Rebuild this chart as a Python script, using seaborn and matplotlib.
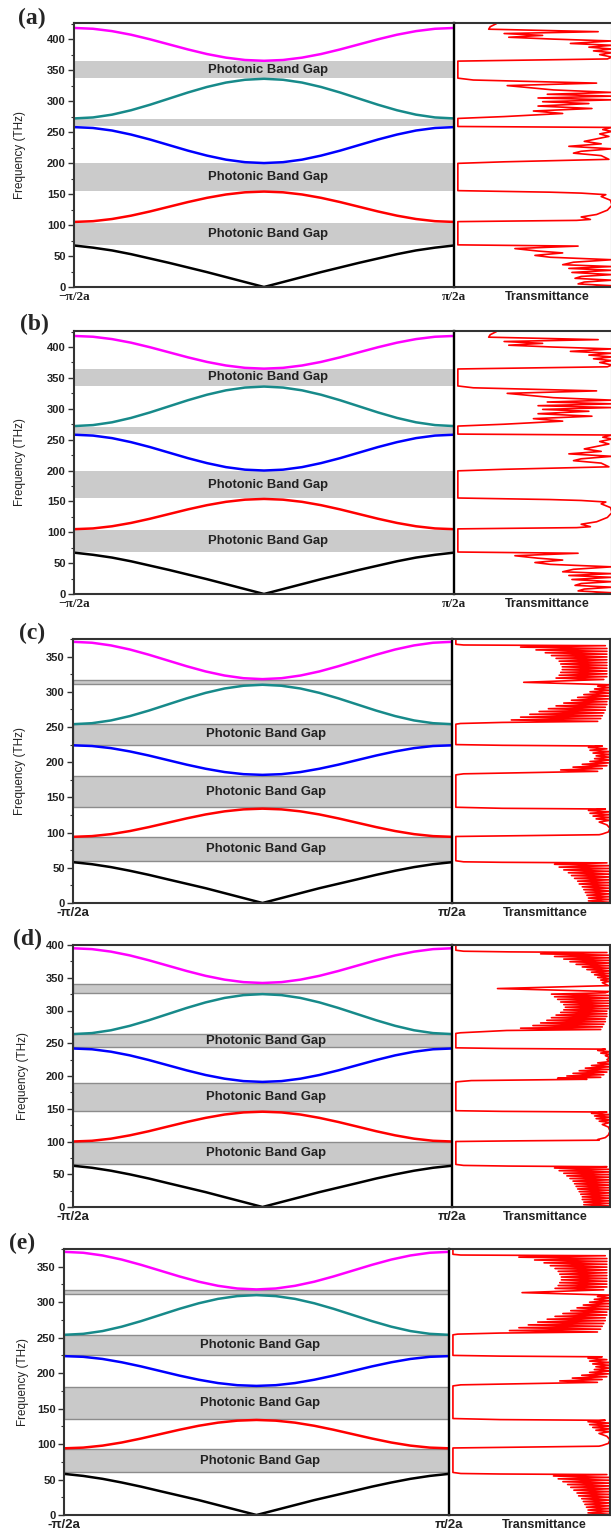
import numpy as np
import pandas as pd
import matplotlib
matplotlib.use("Agg")
import matplotlib.pyplot as plt
from matplotlib.ticker import MultipleLocator
import seaborn as sns

sns.set_style("ticks")
plt.rcParams["font.family"] = ["Liberation Sans", "DejaVu Sans"]

# wave vector from zone centre (0) to zone edge (1), in units of pi/2a
k_half = [0.0, 0.1, 0.2, 0.3, 0.4, 0.5, 0.6, 0.7, 0.8, 0.9, 1.0]

# band frequencies (THz), centre -> edge
black_ab = [0, 8, 16, 24, 31.5, 39, 46, 53, 59, 63.5, 67]
red_ab = [154, 152.8, 149.3, 143.9, 137.1, 129.5, 121.9, 115.1, 109.7, 106.2, 105]
blue_ab = [200, 201.4, 205.5, 212, 220, 229, 238, 246, 252.5, 256.6, 258]
teal_ab = [336, 334.4, 329.9, 322.8, 313.9, 304, 294.1, 285.2, 278.1, 273.6, 272]
magenta_ab = [365, 366.3, 370.1, 375.9, 383.3, 391.5, 399.7, 407.1, 412.9, 416.7, 418]

black_ce = [0, 7, 14, 21, 27.3, 33.6, 40, 45.8, 51, 55.1, 58]
red_ce = [134, 133, 130.2, 125.8, 120.2, 114, 107.8, 102.2, 97.8, 95, 94]
blue_ce = [182, 183, 186, 190.7, 196.5, 203, 209.5, 215.3, 220, 223, 224]
teal_ce = [310, 308.6, 304.7, 298.5, 290.7, 282, 273.3, 265.5, 259.3, 255.4, 254]
magenta_ce = [318, 319.3, 323.1, 328.9, 336.3, 344.5, 352.7, 360.1, 365.9, 369.7, 371]

black_d = [0, 7.6, 15.1, 22.7, 29.6, 36.5, 43.5, 49.8, 55.4, 59.9, 63]
red_d = [145.5, 144.4, 141.2, 136.1, 129.8, 122.8, 115.7, 109.4, 104.3, 101.1, 100]
blue_d = [191, 192.2, 195.9, 201.5, 208.6, 216.5, 224.4, 231.5, 237.1, 240.8, 242]
teal_d = [325, 323.5, 319.2, 312.4, 303.9, 294.5, 285.1, 276.6, 269.8, 265.5, 264]
magenta_d = [342, 343.3, 347.1, 352.9, 360.3, 368.5, 376.7, 384.1, 389.9, 393.7, 395]

# photonic band gaps (low, high) THz
gaps_ab = [(68, 103), (155, 199.5), (259, 271), (337, 364.5)]
gaps_ce = [(60, 93.5), (136, 180), (225, 254), (311, 317)]
gaps_d = [(65, 99), (147, 190), (244, 264), (326, 341)]
labelled_ab = [True, True, False, True]
labelled_ce = [True, True, True, False]
labelled_d = [True, True, True, False]

# transmittance curves (frequency THz, transmittance)
trans_ab = [
    (425, 0.25), (420, 0.21), (416, 0.20), (412, 0.91), (409, 0.30), (406, 0.55), (403, 0.33),
    (400, 0.62), (397, 1.0), (393, 0.73), (390, 1.0), (387, 0.85), (384, 1.0), (381, 0.88),
    (378, 1.0), (375, 0.92), (371, 1.0), (368, 0.97), (364.5, 0.0),
    (337, 0.0), (334, 0.10), (329, 0.90), (325, 0.32), (318, 0.62), (314, 1.0), (311, 0.58),
    (308, 1.0), (305, 0.52), (302, 1.0), (299, 0.55), (296, 0.85), (292, 0.52), (288, 0.87),
    (284, 0.49), (280, 0.68), (275, 0.30), (272, 0.0),
    (259, 0.0), (257.5, 1.0), (254, 0.94), (251, 1.0), (247, 0.92), (243, 0.98), (239, 0.90),
    (235, 0.82), (231, 0.93), (227, 0.72), (223, 1.0), (219, 0.80), (216, 0.75), (212, 0.93),
    (206, 0.98), (202, 0.30), (199.5, 0.0),
    (155.5, 0.0), (153, 0.60), (151.5, 0.80), (149, 0.96), (146, 0.93), (140, 0.99), (132, 1.0),
    (124, 0.97), (117, 0.90), (113, 0.80), (109, 0.86), (107.5, 0.77), (105.5, 0.0),
    (68, 0.0), (66, 0.78), (62, 0.37), (58, 0.52), (55, 0.68), (51, 0.50), (48, 0.60),
    (44, 1.0), (40, 0.75), (36, 0.68), (33, 1.0), (30, 0.72), (27, 1.0), (23.5, 0.74),
    (20, 1.0), (17, 0.80), (14, 0.76), (11, 1.0), (8, 0.82), (5, 0.78), (2, 1.0), (0, 0.85),
]

trans_ce = [
    (375, 0.0), (367.5, 0.0), (366.5, 0.05), (365.5, 0.97), (363.5, 0.42), (361.5, 0.98),
    (359.5, 0.52), (357.5, 0.98), (355.5, 0.58), (353.5, 0.98), (351.5, 0.62), (349.5, 0.98),
    (347.5, 0.65), (345.5, 0.98), (343.5, 0.67), (341.5, 0.98), (339.5, 0.68), (337.5, 0.98),
    (335.5, 0.69), (333.5, 0.98), (331.5, 0.69), (329.5, 0.98), (327.5, 0.68), (325.5, 0.98),
    (323.5, 0.67), (321.5, 0.98), (319.5, 0.65), (317.5, 0.96), (313.5, 0.44), (310, 1.0),
    (308, 0.92), (306, 1.0), (304, 0.90), (302, 1.0), (300, 0.87), (298, 1.0), (296, 0.83),
    (294, 0.99), (292, 0.79), (290, 0.99), (288, 0.75), (286, 0.98), (284, 0.70), (282, 0.98),
    (280, 0.65), (278, 0.97), (276, 0.60), (274, 0.97), (272, 0.54), (270, 0.96), (268, 0.48),
    (266, 0.95), (264, 0.42), (262, 0.94), (260, 0.36), (258, 0.92), (256.5, 0.30), (255, 0.03),
    (254, 0.0),
    (225, 0.0), (224, 0.30), (223, 0.95), (221, 0.86), (219, 0.98), (217, 0.87), (215, 1.0),
    (213, 0.89), (211, 1.0), (209, 0.91), (207, 1.0), (205, 0.90), (203, 1.0), (201, 0.87),
    (199, 0.99), (197, 0.82), (195, 0.98), (193, 0.76), (191, 0.95), (189, 0.68), (187, 0.92),
    (185.5, 0.55), (183.5, 0.05), (182, 0.0),
    (136, 0.0), (134.5, 0.30), (133.5, 0.97), (131.5, 0.86), (129.5, 1.0), (127.5, 0.87),
    (125.5, 1.0), (123.5, 0.89), (121.5, 1.0), (119.5, 0.91), (117.5, 1.0), (115, 0.93),
    (111, 0.98), (106, 1.0), (101, 0.99), (98, 0.95), (97, 0.93), (95.5, 0.40), (94.5, 0.0),
    (60, 0.0), (58.5, 0.05), (57.8, 0.30), (57, 0.98), (55, 0.64), (53, 1.0), (51, 0.67),
    (49, 1.0), (47, 0.70), (45, 1.0), (43, 0.73), (41, 1.0), (39, 0.75), (37, 1.0), (35, 0.77),
    (33, 1.0), (31, 0.79), (29, 1.0), (27, 0.80), (25, 1.0), (23, 0.82), (21, 1.0), (19, 0.83),
    (17, 1.0), (15, 0.84), (13, 1.0), (11, 0.85), (9, 1.0), (7, 0.86), (5, 1.0), (3, 0.86),
    (1, 1.0), (0, 0.87),
]

trans_d = [
    (400, 0.0), (392, 0.0), (390.5, 0.05), (389.5, 0.35), (388.5, 0.98), (386.5, 0.55),
    (384.5, 0.99), (382.5, 0.64), (380.5, 1.0), (378.5, 0.70), (376.5, 1.0), (374.5, 0.74),
    (372.5, 1.0), (370.5, 0.78), (368.5, 1.0), (366.5, 0.82), (364.5, 1.0), (362.5, 0.85),
    (360.5, 1.0), (358.5, 0.88), (356.5, 1.0), (354.5, 0.90), (352.5, 1.0), (350.5, 0.92),
    (348.5, 1.0), (346.5, 0.94), (344.5, 1.0), (342.5, 0.95), (338, 0.99), (333.5, 0.27),
    (329, 0.99), (327, 0.97), (325, 0.62), (323, 0.99), (321, 0.64), (319, 0.99), (317, 0.66),
    (315, 0.99), (313, 0.68), (311, 0.99), (309, 0.70), (307, 0.99), (305, 0.71), (303, 0.99),
    (301, 0.70), (299, 0.98), (297, 0.68), (295, 0.98), (293, 0.65), (291, 0.98), (289, 0.62),
    (287, 0.97), (285, 0.59), (283, 0.97), (281, 0.55), (279, 0.96), (277, 0.50), (275, 0.95),
    (273, 0.42), (271, 0.94), (269.5, 0.33), (266, 0.03), (265, 0.0),
    (243, 0.0), (242, 0.30), (241, 0.97), (239, 0.92), (237, 1.0), (235, 0.94), (233, 1.0),
    (231, 0.97), (228, 1.0), (225, 0.98), (222, 1.0), (220, 0.92), (218, 1.0), (216, 0.88),
    (214, 1.0), (212, 0.84), (210, 0.99), (208, 0.80), (206, 0.98), (204, 0.76), (202, 0.96),
    (200, 0.72), (198, 0.94), (196.5, 0.66), (195, 0.85), (193, 0.10), (191, 0.0),
    (147, 0.0), (146, 0.30), (145, 0.98), (143, 0.88), (141, 1.0), (139, 0.90), (137, 1.0),
    (135, 0.91), (133, 1.0), (131, 0.93), (129, 1.0), (126, 0.95), (122, 0.99), (116, 1.0),
    (110, 0.99), (106, 0.97), (103, 0.92), (102, 0.93), (101, 0.40), (100, 0.0),
    (65, 0.0), (63.5, 0.05), (62.5, 0.34), (61.5, 0.98), (59.5, 0.64), (57.5, 1.0), (55.5, 0.67),
    (53.5, 1.0), (51.5, 0.70), (49.5, 1.0), (47.5, 0.72), (45.5, 1.0), (43.5, 0.74), (41.5, 1.0),
    (39.5, 0.76), (37.5, 1.0), (35.5, 0.77), (33.5, 1.0), (31.5, 0.78), (29.5, 1.0), (27.5, 0.79),
    (25.5, 1.0), (23.5, 0.80), (21.5, 1.0), (19.5, 0.81), (17.5, 1.0), (15.5, 0.82), (13.5, 1.0),
    (11.5, 0.82), (9.5, 1.0), (7.5, 0.83), (5.5, 1.0), (3.5, 0.83), (1.5, 1.0), (0, 0.84),
]

band_colors = ["black", "#ff0000", "#0000ff", "#178a8a", "#ff00ff"]
W, H = 611, 1532

fig = plt.figure(figsize=(W / 100, H / 100), dpi=100)


def mirror(vals):
    # dispersion is symmetric about the zone centre
    k = [-x for x in k_half[::-1]] + k_half[1:]
    f = vals[::-1] + vals[1:]
    return k, f


def panel(box, bands, gaps, labelled, trans, ytop, yticks, letter, letter_xy, ylab_x,
          left_lbl, pi_serif, gap_edges):
    L, D, R, T, B = box
    hb = (B - T) / H
    axt = fig.add_axes([D / W, 1 - B / H, (R - D) / W, hb])
    axb = fig.add_axes([L / W, 1 - B / H, (D - L) / W, hb])
    axb.patch.set_visible(False)

    for lo, hi in gaps:
        if gap_edges:
            axb.axhspan(lo, hi, facecolor="#c9c9c9", edgecolor="#8c8c8c", lw=1.0, zorder=0)
        else:
            axb.axhspan(lo, hi, facecolor="#cbcbcb", edgecolor="none", zorder=0)
    for (lo, hi), lab in zip(gaps, labelled):
        if lab:
            axb.text(0.02, (lo + hi) / 2, "Photonic Band Gap", ha="center", va="center",
                     fontsize=9.4, fontweight="bold", color="#222222", zorder=3)

    for vals, c in zip(bands, band_colors):
        k, f = mirror(vals)
        sns.lineplot(x=k, y=f, color=c, lw=1.8, ax=axb, estimator=None, sort=False, zorder=2)

    df = pd.DataFrame(trans, columns=["freq", "trans"])
    sns.lineplot(data=df, x="trans", y="freq", orient="y", sort=False, estimator=None,
                 color="#ff0000", lw=1.2, ax=axt)

    axb.set_xlim(-1, 1)
    axb.set_ylim(0, ytop)
    axt.set_xlim(-0.025, 1.0)
    axt.set_ylim(0, ytop)
    axb.set_xlabel("")
    axb.set_ylabel("")
    axt.set_xlabel("")
    axt.set_ylabel("")

    axb.set_yticks(yticks, labels=[str(v) for v in yticks], fontweight="bold",
                   fontsize=8, color="#222222")
    axb.yaxis.set_minor_locator(MultipleLocator(25))
    axb.tick_params(axis="y", which="major", direction="out", length=4, width=1, pad=2,
                    color="#333333")
    axb.tick_params(axis="y", which="minor", direction="out", length=2.5, width=0.8,
                    color="#333333")
    if pi_serif:
        fam = ["Liberation Serif", "DejaVu Serif"]
    else:
        fam = ["Liberation Sans", "DejaVu Sans"]
    axb.set_xticks([-1, 1], labels=[left_lbl, "\u03c0/2a"], fontsize=9.5, fontweight="bold",
                   family=fam, color="#222222")
    axb.tick_params(axis="x", length=0, pad=3)
    axt.set_xticks([0.58], labels=["Transmittance"], fontsize=9, fontweight="bold",
                   color="#222222")
    axt.tick_params(axis="x", length=0, pad=3)
    axt.set_yticks([])

    for sp in ["left", "top", "bottom"]:
        axb.spines[sp].set_color("#333333")
        axb.spines[sp].set_linewidth(1.5)
    axb.spines["right"].set_color("black")
    axb.spines["right"].set_linewidth(1.7)
    axt.spines["left"].set_visible(False)
    for sp in ["right", "top", "bottom"]:
        axt.spines[sp].set_color("#333333")
        axt.spines[sp].set_linewidth(1.5)

    fig.text(letter_xy[0] / W, 1 - letter_xy[1] / H, letter, ha="center", va="center",
             fontsize=17, fontweight="bold", family=["Liberation Serif", "DejaVu Serif"])
    fig.text(ylab_x / W, 1 - (T + B) / 2 / H, "Frequency (THz)", rotation=90,
             ha="center", va="center", fontsize=8.4, color="#222222")


ticks_ab = [0, 50, 100, 150, 200, 250, 300, 350, 400]
ticks_ce = [0, 50, 100, 150, 200, 250, 300, 350]
ticks_d = [0, 50, 100, 150, 200, 250, 300, 350, 400]

bands_ab = [black_ab, red_ab, blue_ab, teal_ab, magenta_ab]
bands_ce = [black_ce, red_ce, blue_ce, teal_ce, magenta_ce]
bands_d = [black_d, red_d, blue_d, teal_d, magenta_d]

panel((74, 454, 612, 23, 287), bands_ab, gaps_ab, labelled_ab, trans_ab, 426, ticks_ab,
      "(a)", (32, 18), 20, "\u2212\u03c0/2a", True, False)
panel((74, 454, 612, 331, 594), bands_ab, gaps_ab, labelled_ab, trans_ab, 426, ticks_ab,
      "(b)", (34, 324), 20, "\u2212\u03c0/2a", True, False)
panel((73, 452, 610, 639, 903), bands_ce, gaps_ce, labelled_ce, trans_ce, 375, ticks_ce,
      "(c)", (32, 633), 20, "-\u03c0/2a", False, True)
panel((73, 452, 610, 945, 1207), bands_d, gaps_d, labelled_d, trans_d, 400, ticks_d,
      "(d)", (28, 939), 23, "-\u03c0/2a", False, True)
panel((64, 449, 610, 1249, 1515), bands_ce, gaps_ce, labelled_ce, trans_ce, 375, ticks_ce,
      "(e)", (22, 1243), 23, "-\u03c0/2a", False, True)

fig.savefig("out.png", dpi=100, facecolor="white")
